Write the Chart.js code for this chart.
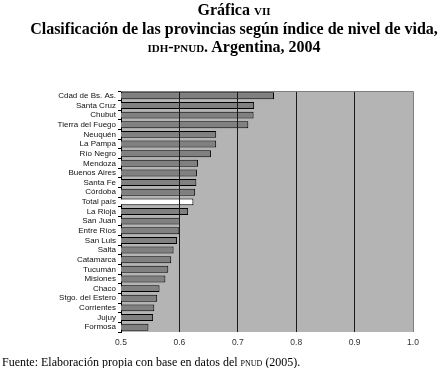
<!DOCTYPE html>
<html>
<head>
<meta charset="utf-8">
<script src="https://cdn.jsdelivr.net/npm/chart.js@4"></script>
<style>
  html, body { margin:0; padding:0; background:#fff; }
  #wrap { position:relative; width:438px; height:368px; overflow:hidden; }
  #ikc { position:absolute; left:0; top:0; }
  .ttl { position:absolute; left:15px; width:438px; text-align:center; font-family:"Liberation Serif", serif; font-weight:bold; color:#000; font-size:16px; line-height:18px; white-space:nowrap; }
  .sc { font-variant:small-caps; text-transform:lowercase; }
  #fuente { position:absolute; left:2px; top:355px; font-family:"Liberation Serif", serif; font-size:12px; color:#000; white-space:nowrap; }
</style>
</head>
<body>
<div id="wrap">
  <canvas id="ikc" width="438" height="368"></canvas>
  <div class="ttl" style="top:1px">Gráfica <span class="sc">VII</span></div>
  <div class="ttl" style="top:20px">Clasificación de las provincias según índice de nivel de vida,</div>
  <div class="ttl" style="top:38px"><span class="sc">IDH-PNUD</span>. Argentina, 2004</div>
  <div id="fuente">Fuente: Elaboración propia con base en datos del <span class="sc">PNUD</span> (2005).</div>
</div>
<script>
/*--provincias, indice de nivel de vida--*/
var provincias = ["Cdad de Bs. As.","Santa Cruz","Chubut","Tierra del Fuego","Neuquén","La Pampa","Río Negro","Mendoza","Buenos Aires","Santa Fe","Córdoba","Total país","La Rioja","San Juan","Entre Ríos","San Luis","Salta","Catamarca","Tucumán","Misiones","Chaco","Stgo. del Estero","Corrientes","Jujuy","Formosa"];
var indice = [0.762,0.728,0.727,0.718,0.663,0.663,0.654,0.632,0.630,0.629,0.627,0.624,0.615,0.601,0.600,0.596,0.590,0.586,0.581,0.576,0.566,0.562,0.557,0.555,0.547];
var ticksX = [0.5,0.6,0.7,0.8,0.9,1.0];

var colores = [];
for (var i = 0; i < provincias.length; i++) {
    colores.push(provincias[i] == "Total país" ? "#ffffff" : "#808080");
}

// fondo gris del area de trazado
var fondo = {
    id: 'fondo',
    beforeDraw: function(chart) {
        var a = chart.chartArea, c = chart.ctx;
        c.save();
        c.fillStyle = "#b4b4b4";
        c.fillRect(a.left, a.top, a.right - a.left, a.bottom - a.top);
        c.restore();
    },
    afterDraw: function(chart) {
        var a = chart.chartArea, c = chart.ctx;
        c.save();
        c.strokeStyle = "#808080";
        c.lineWidth = 1;
        c.beginPath();
        c.moveTo(a.left, a.top + 0.5);
        c.lineTo(a.right + 0.5, a.top + 0.5);
        c.lineTo(a.right + 0.5, a.bottom);
        c.stroke();
        c.restore();
    }
};

var ctx = document.getElementById("ikc").getContext('2d');
var myChart = new Chart(ctx, {
    type: 'bar',
    data: {
        labels: provincias,
        datasets: [{
            data: indice,
            backgroundColor: colores,
            borderColor: "#000000",
            borderWidth: 1,
            borderSkipped: false,
            barPercentage: 0.72,
            categoryPercentage: 1
        }]
    },
    options: {
        indexAxis: 'y',
        responsive: false,
        animation: false,
        layout: { padding: { left: 0, top: 91, right: 25, bottom: 0 } },
        plugins: { legend: { display: false }, tooltip: { enabled: false } },
        scales: {
            x: {
                min: 0.5, max: 1.0,
                afterBuildTicks: function(s) { s.ticks = ticksX.map(function(v){ return {value: v}; }); },
                afterFit: function(s) { s.height = 36; },
                border: { display: false },
                grid: {
                    z: 1,
                    drawTicks: false,
                    lineWidth: 1,
                    color: function(c) {
                        var v = c.tick ? c.tick.value : 0;
                        return (v > 0.55 && v < 0.95) ? "#1a1a1a" : "rgba(0,0,0,0)";
                    }
                },
                ticks: {
                    padding: 6,
                    color: "#333",
                    font: { family: "Liberation Sans", size: 8.5 },
                    callback: function(v) { return Number(v).toFixed(1); }
                }
            },
            y: {
                afterFit: function(s) { s.width = 121; },
                border: { display: true, color: "#000", width: 1 },
                grid: { drawOnChartArea: false, tickLength: 3, color: "#000", offset: true },
                ticks: {
                    padding: 2,
                    autoSkip: false,
                    color: "#111",
                    font: { family: "Liberation Sans", size: 8 }
                }
            }
        }
    },
    plugins: [fondo]
});
</script>
</body>
</html>
